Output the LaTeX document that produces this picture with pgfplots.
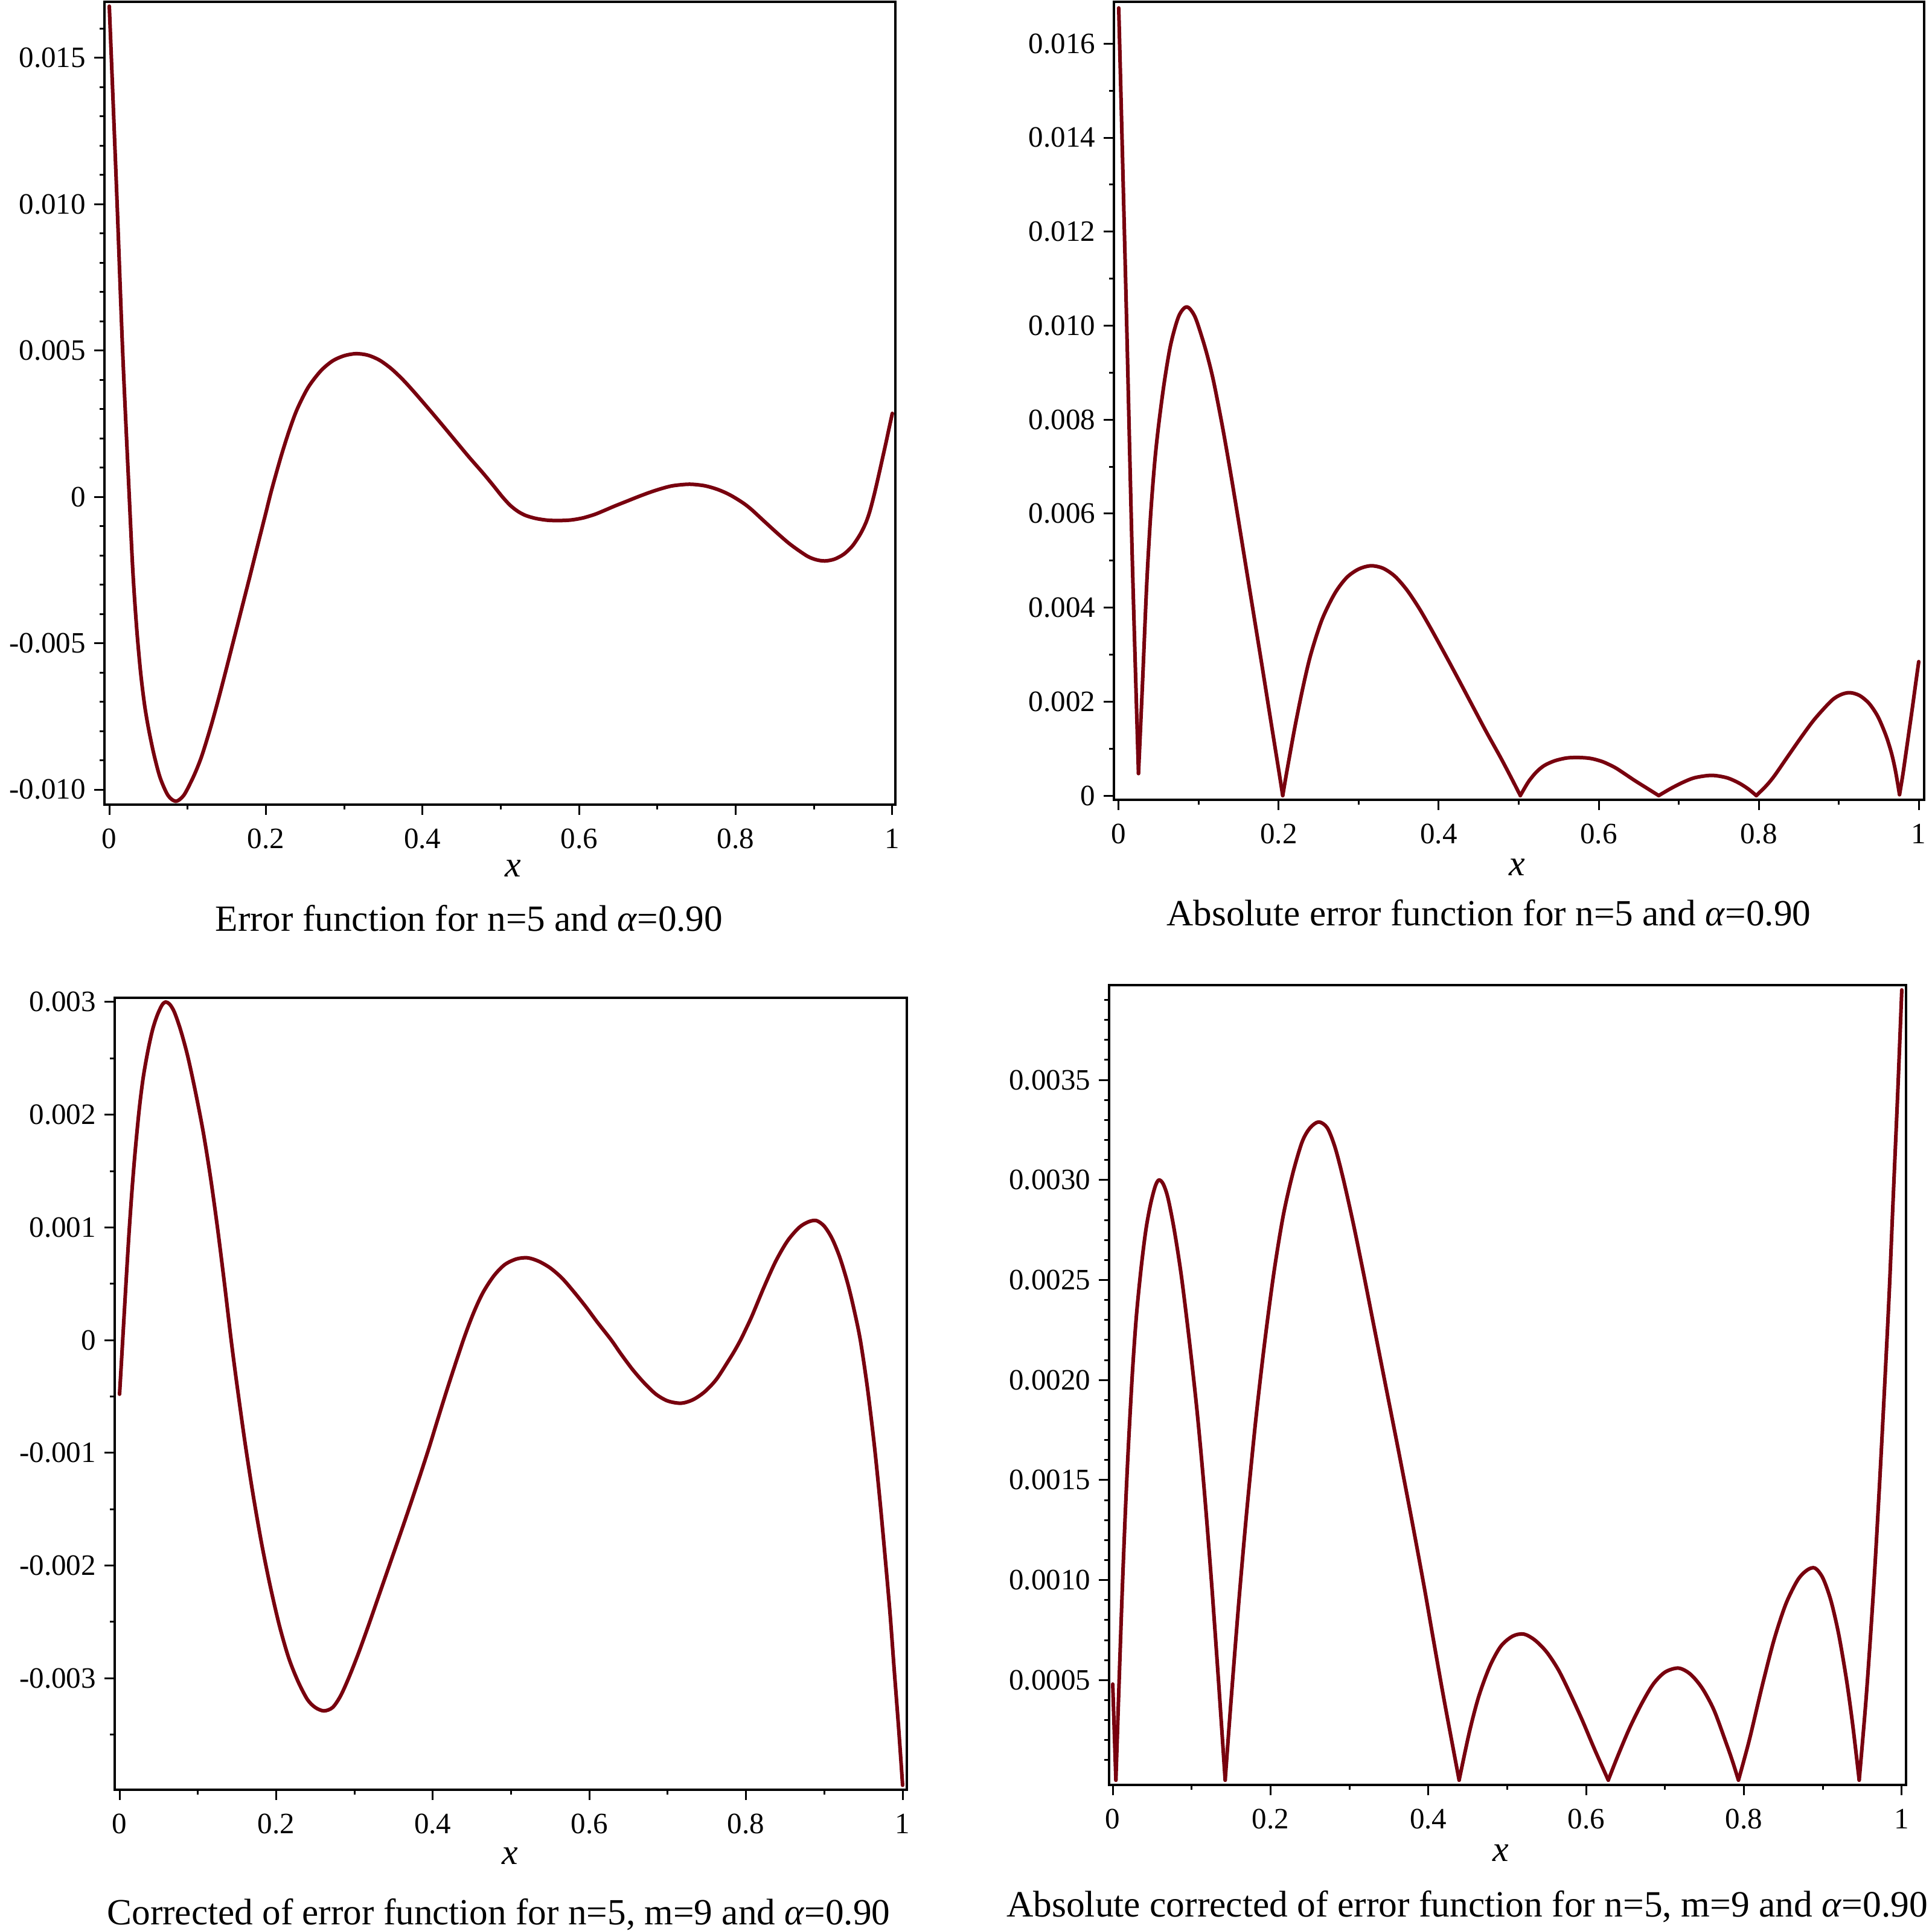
\documentclass[border=0pt]{standalone}
\usepackage{fontspec}
\setmainfont{Liberation Serif}
\usepackage{pgfplots}
\usepackage{pgfplotstable}
\pgfplotsset{compat=1.18}
\definecolor{maple}{RGB}{120,0,14}

\pgfplotstableread{
x y
0.000 0.01676
0.005 0.01340
0.010 0.01000
0.017 0.00500
0.0247 0.00047
0.030 -0.00250
0.035 -0.00450
0.040 -0.00600
0.045 -0.00710
0.050 -0.00790
0.057 -0.00880
0.065 -0.00960
0.075 -0.01020
0.085 -0.01040
0.095 -0.01020
0.105 -0.00970
0.112 -0.00928
0.119 -0.00878
0.130 -0.00782
0.140 -0.00685
0.150 -0.00582
0.160 -0.00477
0.170 -0.00372
0.180 -0.00267
0.190 -0.00160
0.200 -0.00054
0.205 0.00000
0.210 0.00050
0.220 0.00144
0.230 0.00228
0.240 0.00300
0.254 0.00374
0.270 0.00430
0.285 0.00464
0.300 0.00482
0.315 0.00489
0.330 0.00484
0.345 0.00467
0.360 0.00438
0.375 0.00400
0.390 0.00356
0.410 0.00294
0.427 0.00240
0.445 0.00182
0.460 0.00134
0.477 0.00082
0.490 0.00040
0.502 0.00000
0.512 -0.00029
0.522 -0.00050
0.532 -0.00064
0.545 -0.00074
0.560 -0.00080
0.575 -0.00081
0.590 -0.00079
0.605 -0.00072
0.620 -0.00060
0.631 -0.00048
0.645 -0.00032
0.660 -0.00016
0.675 0.00000
0.690 0.00015
0.705 0.00028
0.720 0.00038
0.741 0.00043
0.760 0.00038
0.775 0.00027
0.787 0.00014
0.797 0.00000
0.810 -0.00022
0.820 -0.00043
0.835 -0.00080
0.853 -0.00124
0.870 -0.00163
0.891 -0.00202
0.903 -0.00215
0.914 -0.00219
0.926 -0.00213
0.938 -0.00196
0.949 -0.00168
0.959 -0.00128
0.966 -0.00090
0.971 -0.00052
0.976 -0.00002
0.980 0.00043
0.984 0.00090
0.988 0.00138
0.992 0.00186
0.996 0.00236
1.000 0.00285
}\tlerr

\pgfplotstableread{
x y
0.000 0.01676
0.005 0.01340
0.010 0.01000
0.017 0.00500
0.0247 0.00047
0.030 0.00250
0.035 0.00450
0.040 0.00600
0.045 0.00710
0.050 0.00790
0.057 0.00880
0.065 0.00960
0.075 0.01020
0.085 0.01040
0.095 0.01020
0.105 0.00970
0.112 0.00928
0.119 0.00878
0.130 0.00782
0.140 0.00685
0.150 0.00582
0.160 0.00477
0.170 0.00372
0.180 0.00267
0.190 0.00160
0.200 0.00054
0.205 0.00000
0.210 0.00050
0.220 0.00144
0.230 0.00228
0.240 0.00300
0.254 0.00374
0.270 0.00430
0.285 0.00464
0.300 0.00482
0.315 0.00489
0.330 0.00484
0.345 0.00467
0.360 0.00438
0.375 0.00400
0.390 0.00356
0.410 0.00294
0.427 0.00240
0.445 0.00182
0.460 0.00134
0.477 0.00082
0.490 0.00040
0.502 0.00000
0.512 0.00029
0.522 0.00050
0.532 0.00064
0.545 0.00074
0.560 0.00080
0.575 0.00081
0.590 0.00079
0.605 0.00072
0.620 0.00060
0.631 0.00048
0.645 0.00032
0.660 0.00016
0.675 0.00000
0.690 0.00015
0.705 0.00028
0.720 0.00038
0.741 0.00043
0.760 0.00038
0.775 0.00027
0.787 0.00014
0.797 0.00000
0.810 0.00022
0.820 0.00043
0.835 0.00080
0.853 0.00124
0.870 0.00163
0.891 0.00202
0.903 0.00215
0.914 0.00219
0.926 0.00213
0.938 0.00196
0.949 0.00168
0.959 0.00128
0.966 0.00090
0.971 0.00052
0.976 0.00002
0.980 0.00043
0.984 0.00090
0.988 0.00138
0.992 0.00186
0.996 0.00236
1.000 0.00285
}\trerr

\pgfplotstableread{
x y
0.000 -0.00048
0.004 0.00000
0.008 0.00048
0.012 0.00094
0.016 0.00134
0.020 0.00168
0.025 0.00204
0.030 0.00232
0.036 0.00256
0.042 0.00275
0.048 0.00288
0.054 0.00297
0.0586 0.00300
0.064 0.00298
0.070 0.00291
0.078 0.00275
0.087 0.00252
0.097 0.00220
0.107 0.00184
0.116 0.00145
0.125 0.00100
0.134 0.00050
0.1425 0.00000
0.150 -0.00040
0.160 -0.00090
0.170 -0.00135
0.181 -0.00179
0.192 -0.00217
0.204 -0.00253
0.216 -0.00282
0.228 -0.00303
0.240 -0.00319
0.250 -0.00326
0.261 -0.00329
0.272 -0.00326
0.282 -0.00316
0.2925 -0.00300
0.305 -0.00278
0.318 -0.00253
0.330 -0.00229
0.345 -0.00199
0.363 -0.00163
0.380 -0.00128
0.395 -0.00096
0.4056 -0.00072
0.420 -0.00040
0.439 0.00000
0.452 0.00024
0.464 0.00042
0.478 0.00057
0.492 0.00067
0.507 0.00072
0.521 0.00073
0.535 0.00070
0.550 0.00064
0.565 0.00055
0.580 0.00043
0.595 0.00030
0.610 0.00016
0.628 0.00000
0.640 -0.00012
0.655 -0.00026
0.670 -0.00038
0.685 -0.00048
0.700 -0.00054
0.717 -0.00056
0.732 -0.00053
0.747 -0.00046
0.762 -0.00035
0.777 -0.00019
0.785 -0.00010
0.793 0.00000
0.800 0.00010
0.808 0.00022
0.823 0.00047
0.838 0.00070
0.853 0.00088
0.868 0.00100
0.880 0.00105
0.890 0.00106
0.900 0.00101
0.910 0.00090
0.920 0.00073
0.930 0.00050
0.938 0.00027
0.946 0.00000
0.955 -0.00042
0.964 -0.00094
0.971 -0.00142
0.978 -0.00195
0.984 -0.00243
0.989 -0.00290
0.995 -0.00345
1.000 -0.00395
}\blerr

\pgfplotstableread{
x y
0.000 0.00048
0.004 0.00000
0.008 0.00048
0.012 0.00094
0.016 0.00134
0.020 0.00168
0.025 0.00204
0.030 0.00232
0.036 0.00256
0.042 0.00275
0.048 0.00288
0.054 0.00297
0.0586 0.00300
0.064 0.00298
0.070 0.00291
0.078 0.00275
0.087 0.00252
0.097 0.00220
0.107 0.00184
0.116 0.00145
0.125 0.00100
0.134 0.00050
0.1425 0.00000
0.150 0.00040
0.160 0.00090
0.170 0.00135
0.181 0.00179
0.192 0.00217
0.204 0.00253
0.216 0.00282
0.228 0.00303
0.240 0.00319
0.250 0.00326
0.261 0.00329
0.272 0.00326
0.282 0.00316
0.2925 0.00300
0.305 0.00278
0.318 0.00253
0.330 0.00229
0.345 0.00199
0.363 0.00163
0.380 0.00128
0.395 0.00096
0.4056 0.00072
0.420 0.00040
0.439 0.00000
0.452 0.00024
0.464 0.00042
0.478 0.00057
0.492 0.00067
0.507 0.00072
0.521 0.00073
0.535 0.00070
0.550 0.00064
0.565 0.00055
0.580 0.00043
0.595 0.00030
0.610 0.00016
0.628 0.00000
0.640 0.00012
0.655 0.00026
0.670 0.00038
0.685 0.00048
0.700 0.00054
0.717 0.00056
0.732 0.00053
0.747 0.00046
0.762 0.00035
0.777 0.00019
0.785 0.00010
0.793 0.00000
0.800 0.00010
0.808 0.00022
0.823 0.00047
0.838 0.00070
0.853 0.00088
0.868 0.00100
0.880 0.00105
0.890 0.00106
0.900 0.00101
0.910 0.00090
0.920 0.00073
0.930 0.00050
0.938 0.00027
0.946 0.00000
0.955 0.00042
0.964 0.00094
0.971 0.00142
0.978 0.00195
0.984 0.00243
0.989 0.00290
0.995 0.00345
1.000 0.00395
}\brerr

\pgfplotsset{
  mapleax/.style={
    scale only axis,
    scaled ticks=false,
    axis line style={line width=0.9pt},
    tick align=outside,
    tick pos=left,
    major tick length=3.4pt,
    minor tick length=1.6pt,
    every tick/.style={black, line width=0.6pt},
    xtick={0,0.2,0.4,0.6,0.8,1},
    xticklabels={0,0.2,0.4,0.6,0.8,1},
    minor xtick={0.1,0.3,0.5,0.7,0.9},
    tick label style={font=\fontsize{9.8}{10}\selectfont},
    xticklabel style={inner sep=0pt, anchor=north, yshift=-4.4pt},
    yticklabel style={inner sep=0pt, anchor=east, xshift=-2.6pt},
    clip=false,
    anchor=south west,
  },
  mapleplot/.style={color=maple, line width=1.2pt, no markers, line join=round, line cap=round},
  seg/.style 2 args={mapleplot, smooth, tension=0.5, restrict x to domain=#1:#2},
}

\begin{document}
\begin{tikzpicture}
\useasboundingbox (0pt,0pt) rectangle (640pt,-639.8pt);

% Top left
\begin{axis}[mapleax, at={(34.6pt,-266.6pt)}, width=262pt, height=266pt,
  xmin=-0.0062, xmax=1.0039, ymin=-0.010515, ymax=0.01691,
  ytick={-0.010,-0.005,0,0.005,0.010,0.015},
  yticklabels={-0.010,-0.005,0,0.005,0.010,0.015},
  minor ytick={-0.009,-0.008,-0.007,-0.006,-0.004,-0.003,-0.002,-0.001,0.001,0.002,0.003,0.004,0.006,0.007,0.008,0.009,0.011,0.012,0.013,0.014,0.016}]
\addplot[mapleplot, smooth, tension=0.5] table[x=x,y=y] {\tlerr};
\end{axis}

% Top right
\begin{axis}[mapleax, at={(369pt,-265pt)}, width=268.4pt, height=264.4pt,
  xmin=-0.006, xmax=1.0068, ymin=-0.00009, ymax=0.01689,
  ytick={0,0.002,0.004,0.006,0.008,0.010,0.012,0.014,0.016},
  yticklabels={0,0.002,0.004,0.006,0.008,0.010,0.012,0.014,0.016},
  minor ytick={0.001,0.003,0.005,0.007,0.009,0.011,0.013,0.015}]
\addplot[seg={-0.001}{0.0248}] table[x=x,y=y] {\trerr};
\addplot[seg={0.0246}{0.2052}] table[x=x,y=y] {\trerr};
\addplot[seg={0.2048}{0.5022}] table[x=x,y=y] {\trerr};
\addplot[seg={0.5018}{0.6752}] table[x=x,y=y] {\trerr};
\addplot[seg={0.6748}{0.7972}] table[x=x,y=y] {\trerr};
\addplot[seg={0.7968}{0.9762}] table[x=x,y=y] {\trerr};
\addplot[seg={0.9758}{1.001}] table[x=x,y=y] {\trerr};
\end{axis}

% Bottom left
\begin{axis}[mapleax, at={(38pt,-593pt)}, width=262.4pt, height=262.4pt,
  xmin=-0.0062, xmax=1.0054, ymin=-0.00399, ymax=0.003037,
  ytick={-0.003,-0.002,-0.001,0,0.001,0.002,0.003},
  yticklabels={-0.003,-0.002,-0.001,0,0.001,0.002,0.003},
  minor ytick={-0.0035,-0.0025,-0.0015,-0.0005,0.0005,0.0015,0.0025}]
\addplot[mapleplot, smooth, tension=0.5] table[x=x,y=y] {\blerr};
\end{axis}

% Bottom right
\begin{axis}[mapleax, at={(367.4pt,-591.4pt)}, width=264pt, height=265pt,
  xmin=-0.0046, xmax=1.0054, ymin=-0.000024, ymax=0.003974,
  ytick={0.0005,0.0010,0.0015,0.0020,0.0025,0.0030,0.0035},
  yticklabels={0.0005,0.0010,0.0015,0.0020,0.0025,0.0030,0.0035},
  minor ytick={0.0001,0.0002,0.0003,0.0004,0.0006,0.0007,0.0008,0.0009,0.0011,0.0012,0.0013,0.0014,0.0016,0.0017,0.0018,0.0019,0.0021,0.0022,0.0023,0.0024,0.0026,0.0027,0.0028,0.0029,0.0031,0.0032,0.0033,0.0034,0.0036,0.0037,0.0038,0.0039}]
\addplot[seg={-0.001}{0.0042}] table[x=x,y=y] {\brerr};
\addplot[seg={0.0038}{0.1427}] table[x=x,y=y] {\brerr};
\addplot[seg={0.1423}{0.4392}] table[x=x,y=y] {\brerr};
\addplot[seg={0.4388}{0.6282}] table[x=x,y=y] {\brerr};
\addplot[seg={0.6278}{0.7932}] table[x=x,y=y] {\brerr};
\addplot[seg={0.7928}{0.9462}] table[x=x,y=y] {\brerr};
\addplot[seg={0.9458}{1.001}] table[x=x,y=y] {\brerr};
\end{axis}

% x labels
\node[anchor=base, inner sep=0pt, font=\fontsize{12}{12}\selectfont\itshape] at (170pt,-290.4pt) {x};
\node[anchor=base, inner sep=0pt, font=\fontsize{12}{12}\selectfont\itshape] at (502.6pt,-290pt) {x};
\node[anchor=base, inner sep=0pt, font=\fontsize{12}{12}\selectfont\itshape] at (169pt,-617.6pt) {x};
\node[anchor=base, inner sep=0pt, font=\fontsize{12}{12}\selectfont\itshape] at (497.2pt,-616.6pt) {x};

% captions
\node[anchor=base, inner sep=0pt, font=\fontsize{12.25}{13}\selectfont] at (155.4pt,-308.4pt) {Error function for n=5 and \textit{α}=0.90};
\node[anchor=base, inner sep=0pt, font=\fontsize{12.25}{13}\selectfont] at (493.2pt,-306.6pt) {Absolute error function for n=5 and \textit{α}=0.90};
\node[anchor=base, inner sep=0pt, font=\fontsize{12.25}{13}\selectfont] at (165.2pt,-637.6pt) {Corrected of error function for n=5, m=9 and \textit{α}=0.90};
\node[anchor=base, inner sep=0pt, font=\fontsize{12.3}{13}\selectfont] at (486pt,-635pt) {Absolute corrected of error function for n=5, m=9 and \textit{α}=0.90};
\end{tikzpicture}
\end{document}
